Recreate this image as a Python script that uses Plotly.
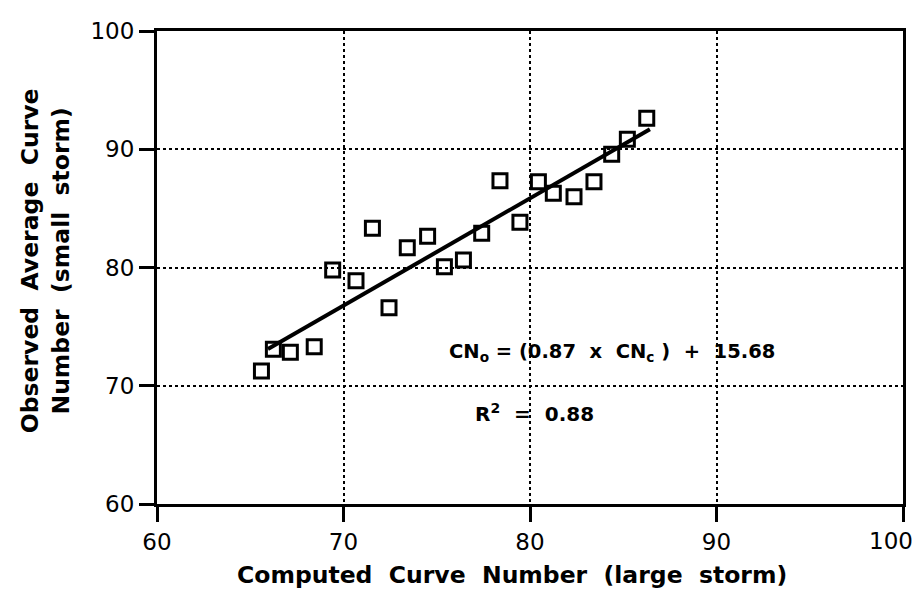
import plotly.graph_objects as go

# Observed vs computed curve numbers
cn_computed = [65.6, 66.24, 67.15, 68.43, 69.42, 70.67, 71.55, 72.44, 73.42, 74.51,
               75.41, 76.43, 77.41, 78.39, 79.46, 80.45, 81.25, 82.36, 83.43, 84.38,
               85.22, 86.26]
cn_observed = [71.25, 73.08, 72.83, 73.3, 79.79, 78.88, 83.31, 76.6, 81.67, 82.64,
               80.07, 80.63, 82.89, 87.34, 83.82, 87.26, 86.27, 85.99, 87.26, 89.57,
               90.84, 92.62]

# Regression line endpoints as drawn
fit_x = [65.95, 86.43]
fit_y = [73.1, 91.69]

x_ticks = [60, 70, 80, 90, 100]
x_tick_labels = ["60", "70", "80", "90", "100"]
y_ticks = [60, 70, 80, 90, 100]
y_tick_labels = ["60", "70", "80", "90", "100"]

FONT = "DejaVu Sans"

fig = go.Figure()
fig.add_trace(go.Scatter(
    x=fit_x, y=fit_y, mode="lines",
    line=dict(color="black", width=4), showlegend=False, hoverinfo="skip"))
fig.add_trace(go.Scatter(
    x=cn_computed, y=cn_observed, mode="markers",
    marker=dict(symbol="square-open", size=14, color="black",
                line=dict(color="black", width=3)),
    showlegend=False))

axis_common = dict(
    showline=True, linecolor="black", linewidth=3, mirror=True,
    ticks="outside", ticklen=15, tickwidth=3, tickcolor="black",
    showgrid=True, gridcolor="black", gridwidth=2, griddash="dot",
    zeroline=False, automargin=False,
    tickfont=dict(family=FONT, size=23, color="black"),
)

# last x tick label is drawn separately (shifted left to stay inside the page)
fig.update_xaxes(range=[60, 100], tickvals=x_ticks,
                 ticktext=x_tick_labels[:-1] + [""], **axis_common)
fig.update_yaxes(range=[60, 100], tickvals=y_ticks, ticktext=y_tick_labels,
                 **axis_common)

fig.add_annotation(
    x=x_ticks[-1], y=0, xref="x", yref="paper", xanchor="center", yanchor="top",
    yshift=-22, xshift=-12, text=x_tick_labels[-1], showarrow=False,
    font=dict(family=FONT, size=23, color="black"))

fig.add_annotation(
    x=75.55, y=72.85, xref="x", yref="y", xanchor="left", yanchor="middle",
    text="<b>CN<sub>o</sub> = (0.87  x  CN<sub>c</sub> )  +  15.68</b>",
    showarrow=False, font=dict(family=FONT, size=19.5, color="black"))
fig.add_annotation(
    x=76.94, y=67.7, xref="x", yref="y", xanchor="left", yanchor="middle",
    text="<b>R<sup>2</sup>  =  0.88</b>",
    showarrow=False, font=dict(family=FONT, size=20, color="black"))

# axis titles
fig.add_annotation(
    x=0.476, y=-0.15, xref="paper", yref="paper", xanchor="center", yanchor="middle",
    text="<b>Computed  Curve  Number  (large  storm)</b>",
    showarrow=False, font=dict(family=FONT, size=23.5, color="black"))
fig.add_annotation(
    x=-0.149, y=0.515, xref="paper", yref="paper", xanchor="center", yanchor="middle",
    text="<b>Observed  Average  Curve<br>Number  (small  storm)</b>", textangle=-90,
    showarrow=False, font=dict(family=FONT, size=23.5, color="black"))

fig.update_layout(
    width=916, height=587,
    margin=dict(l=149, r=21, t=23, b=91, autoexpand=False),
    plot_bgcolor="white", paper_bgcolor="white",
    font=dict(family=FONT, color="black"),
)

fig.write_html("out.html")
